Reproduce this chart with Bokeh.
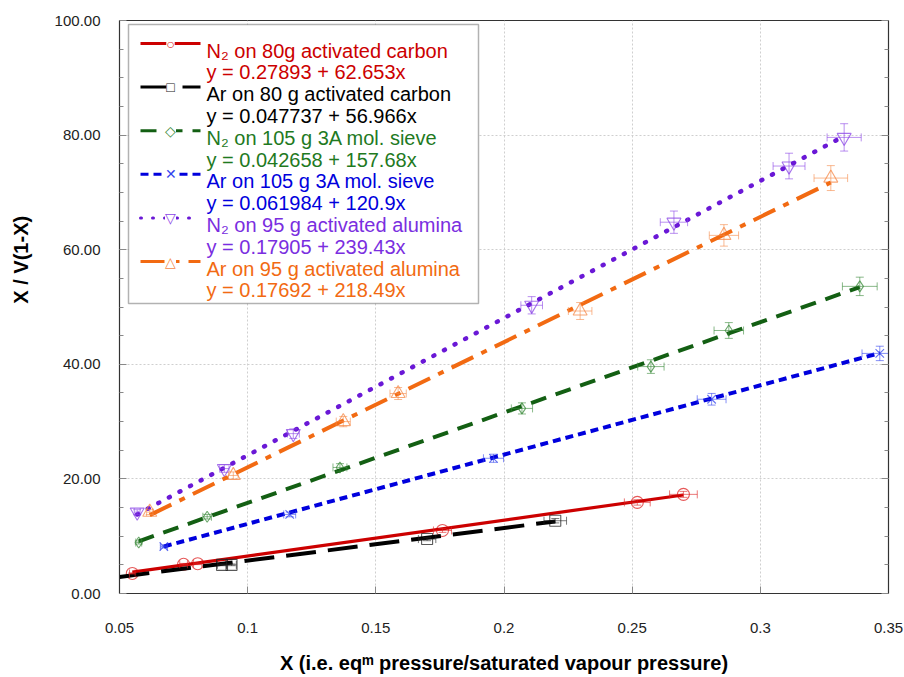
import math
from bokeh.plotting import figure
from bokeh.models import (ColumnDataSource, Whisker, TeeHead, Label, BoxAnnotation, Arrow,
                          LinearAxis, FixedTicker, SingleIntervalTicker, NumeralTickFormatter,
                          CustomJSTickFormatter, Range1d)
from bokeh.embed import file_html
from bokeh.resources import INLINE

FONT = "Liberation Sans"

# ---------------- data ----------------
x_ticks = [0.05, 0.10, 0.15, 0.20, 0.25, 0.30, 0.35]
y_tick_interval = 20
x_title = "X (i.e. eq\u1D50 pressure/saturated vapour pressure)"
y_title = "X / V(1-X)"

labels = ["N\u2082 on 80g activated carbon",
          "Ar on 80 g activated carbon",
          "N\u2082 on 105 g 3A mol. sieve",
          "Ar on 105 g 3A mol. sieve",
          "N\u2082 on 95 g activated alumina",
          "Ar on 95 g activated alumina"]
equations = ["y = 0.27893 + 62.653x",
             "y = 0.047737 + 56.966x",
             "y = 0.042658 + 157.68x",
             "y = 0.061984 + 120.9x",
             "y = 0.17905 + 239.43x",
             "y = 0.17692 + 218.49x"]
intercepts = [0.27893, 0.047737, 0.042658, 0.061984, 0.17905, 0.17692]
slopes = [62.653, 56.966, 157.68, 120.9, 239.43, 218.49]
fit_x_start = [0.055, 0.050, 0.0575, 0.0673, 0.0569, 0.0618]
fit_x_end = [0.270, 0.220, 0.3388, 0.3466, 0.3327, 0.3275]

n2_carbon_x = [0.055, 0.075, 0.0805, 0.176, 0.252, 0.270]
n2_carbon_y = [3.5, 5.1, 5.2, 11.0, 15.9, 17.3]
ar_carbon_x = [0.090, 0.0937, 0.170, 0.220]
ar_carbon_y = [5.0, 5.0, 9.5, 12.7]
n2_sieve_x = [0.0575, 0.0842, 0.136, 0.207, 0.2573, 0.2877, 0.3388]
n2_sieve_y = [8.9, 13.4, 22.0, 32.3, 39.6, 45.9, 53.6]
ar_sieve_x = [0.0673, 0.1164, 0.1959, 0.281, 0.3466]
ar_sieve_y = [8.2, 13.8, 23.6, 33.9, 41.9]
n2_alumina_x = [0.0569, 0.0909, 0.1178, 0.2108, 0.2663, 0.3112, 0.3327]
n2_alumina_y = [14.2, 21.8, 27.9, 50.3, 64.8, 74.6, 79.6]
ar_alumina_x = [0.0618, 0.0944, 0.1373, 0.1587, 0.2297, 0.2858, 0.3275]
ar_alumina_y = [14.2, 20.6, 30.0, 34.9, 49.3, 62.5, 72.5]

rel_err_x = 0.02   # relative error bar, X
rel_err_y = 0.03   # relative error bar, Y

xs = [n2_carbon_x, ar_carbon_x, n2_sieve_x, ar_sieve_x, n2_alumina_x, ar_alumina_x]
ys = [n2_carbon_y, ar_carbon_y, n2_sieve_y, ar_sieve_y, n2_alumina_y, ar_alumina_y]

# ---------------- styles ----------------
line_colors = ["#cc0000", "#000000", "#135f13", "#0000dd", "#6a18d6", "#f26a12"]
text_colors = ["#cc0000", "#000000", "#1f7a1f", "#0000dd", "#7a2ee0", "#f26a12"]
marker_colors = ["#dd2222", "#222222", "#3a8a3a", "#3344ee", "#8a44e6", "#f58a4a"]
markers = ["circle", "square", "diamond", "x", "inverted_triangle", "triangle"]
marker_sizes = [12, 11, 11, 12, 14, 14]
marker_glyphs = ["\u25CB", "\u25A1", "\u25C7", "\u2715", "\u25BD", "\u25B3"]
dashes = ["solid", "30 12", "16 10", "8 5", "1 11", "24 9 6 9"]
widths = [3.2, 4, 4, 4, 4.5, 4]
caps = ["butt", "butt", "butt", "butt", "round", "butt"]

FL, FR, FT, FB = 119, 888, 20, 593  # frame in canvas pixels


def sx(cx):
    return cx - FL


def sy(cy):
    return FB - cy


p = figure(width=904, height=677, output_backend="svg", toolbar_location=None,
           x_range=Range1d(0.05, 0.35), y_range=Range1d(0, 100),
           min_border_left=FL, min_border_right=904 - FR, min_border_top=FT,
           min_border_bottom=677 - FB)
p.outline_line_color = "#333333"
p.outline_line_width = 1.2
p.background_fill_color = "white"
p.border_fill_color = "white"

xticker = FixedTicker(ticks=x_ticks, minor_ticks=[])
yticker = SingleIntervalTicker(interval=y_tick_interval, num_minor_ticks=4)

p.xaxis.ticker = xticker
p.yaxis.ticker = yticker
p.xaxis.formatter = NumeralTickFormatter(format="0.[00]")
p.yaxis.formatter = NumeralTickFormatter(format="0.00")
for ax in (p.xaxis[0], p.yaxis[0]):
    ax.major_label_text_font = FONT
    ax.major_label_text_font_size = "15px"
    ax.major_label_text_color = "#222222"
    ax.major_tick_in = 7
    ax.major_tick_out = 0
    ax.minor_tick_in = 4
    ax.minor_tick_out = 0
    ax.major_tick_line_color = "#888888"
    ax.minor_tick_line_color = "#888888"
    ax.axis_line_color = "#333333"
    ax.axis_label_text_font = FONT
    ax.axis_label_text_font_size = "20px"
    ax.axis_label_text_font_style = "bold"
    ax.axis_label_text_color = "black"
p.xaxis.major_label_standoff = 29
p.yaxis.major_label_standoff = 19
p.xaxis.axis_label = x_title
p.xaxis.axis_label_standoff = 16
# leading no-break spaces shift the rotated title upward, as in the reference
p.yaxis.axis_label = "\u00a0" * 17 + y_title
p.yaxis.axis_label_standoff = 20

raxis = LinearAxis(ticker=SingleIntervalTicker(interval=y_tick_interval, num_minor_ticks=4),
                   formatter=CustomJSTickFormatter(code="return ''"),
                   major_label_standoff=0,
                   major_tick_in=7, major_tick_out=0, minor_tick_in=4, minor_tick_out=0,
                   major_tick_line_color="#888888", minor_tick_line_color="#888888",
                   axis_line_color="#333333")
p.add_layout(raxis, "right")

p.xgrid.ticker = xticker
p.ygrid.ticker = SingleIntervalTicker(interval=y_tick_interval)
for g in (p.xgrid[0], p.ygrid[0]):
    g.grid_line_color = "#cfcfcf"
    g.grid_line_dash = "2 2"
    g.grid_line_width = 1

# ---------------- series ----------------
for i in range(6):
    x = xs[i]
    y = ys[i]
    src = ColumnDataSource(dict(
        x=x, y=y,
        xl=[v * (1 - rel_err_x) for v in x], xu=[v * (1 + rel_err_x) for v in x],
        yl=[v * (1 - rel_err_y) for v in y], yu=[v * (1 + rel_err_y) for v in y]))
    ec = marker_colors[i]
    p.add_layout(Whisker(source=src, base="y", lower="xl", upper="xu", dimension="width",
                         line_color=ec, line_alpha=0.6, line_width=1,
                         lower_head=TeeHead(size=8, line_color=ec, line_alpha=0.6),
                         upper_head=TeeHead(size=8, line_color=ec, line_alpha=0.6),
                         level="glyph"))
    p.add_layout(Whisker(source=src, base="x", lower="yl", upper="yu", dimension="height",
                         line_color=ec, line_alpha=0.6, line_width=1,
                         lower_head=TeeHead(size=8, line_color=ec, line_alpha=0.6),
                         upper_head=TeeHead(size=8, line_color=ec, line_alpha=0.6),
                         level="glyph"))
    p.scatter("x", "y", source=src, marker=markers[i], size=marker_sizes[i],
              fill_color=None, line_color=ec, line_alpha=0.75, line_width=1.1)
    x0, x1 = fit_x_start[i], fit_x_end[i]
    p.line([x0, x1], [intercepts[i] + slopes[i] * x0, intercepts[i] + slopes[i] * x1],
           line_color=line_colors[i], line_width=widths[i], line_dash=dashes[i],
           line_cap=caps[i])

# ---------------- legend (manual) ----------------
p.add_layout(BoxAnnotation(left=sx(128), right=sx(478), top=sy(24), bottom=sy(303),
                           left_units="screen", right_units="screen",
                           top_units="screen", bottom_units="screen",
                           fill_color="white", fill_alpha=1.0,
                           line_color="black", line_width=1.5, level="overlay"))
for i in range(6):
    base1 = 50 + 43.6 * i
    base2 = base1 + 21.8
    ly = base1 - 7
    p.add_layout(Arrow(x_start=sx(140), y_start=sy(ly), x_end=sx(200), y_end=sy(ly),
                       start_units="screen", end_units="screen", end=None,
                       line_color=line_colors[i], line_width=3, line_dash=dashes[i],
                       line_cap=caps[i], level="overlay"))
    p.add_layout(Label(x=sx(170), y=sy(ly), x_units="screen", y_units="screen",
                       text=marker_glyphs[i], text_font=FONT, text_font_size="14px",
                       text_color=marker_colors[i], text_align="center",
                       text_baseline="middle", background_fill_color="white",
                       level="overlay"))
    for txt, b in ((labels[i], base1), (equations[i], base2)):
        p.add_layout(Label(x=sx(206), y=sy(b), x_units="screen", y_units="screen",
                           text=txt, text_font=FONT, text_font_size="20px",
                           text_color=text_colors[i], text_align="left",
                           text_baseline="alphabetic", level="overlay"))

open("out.html", "w").write(file_html(p, INLINE))
